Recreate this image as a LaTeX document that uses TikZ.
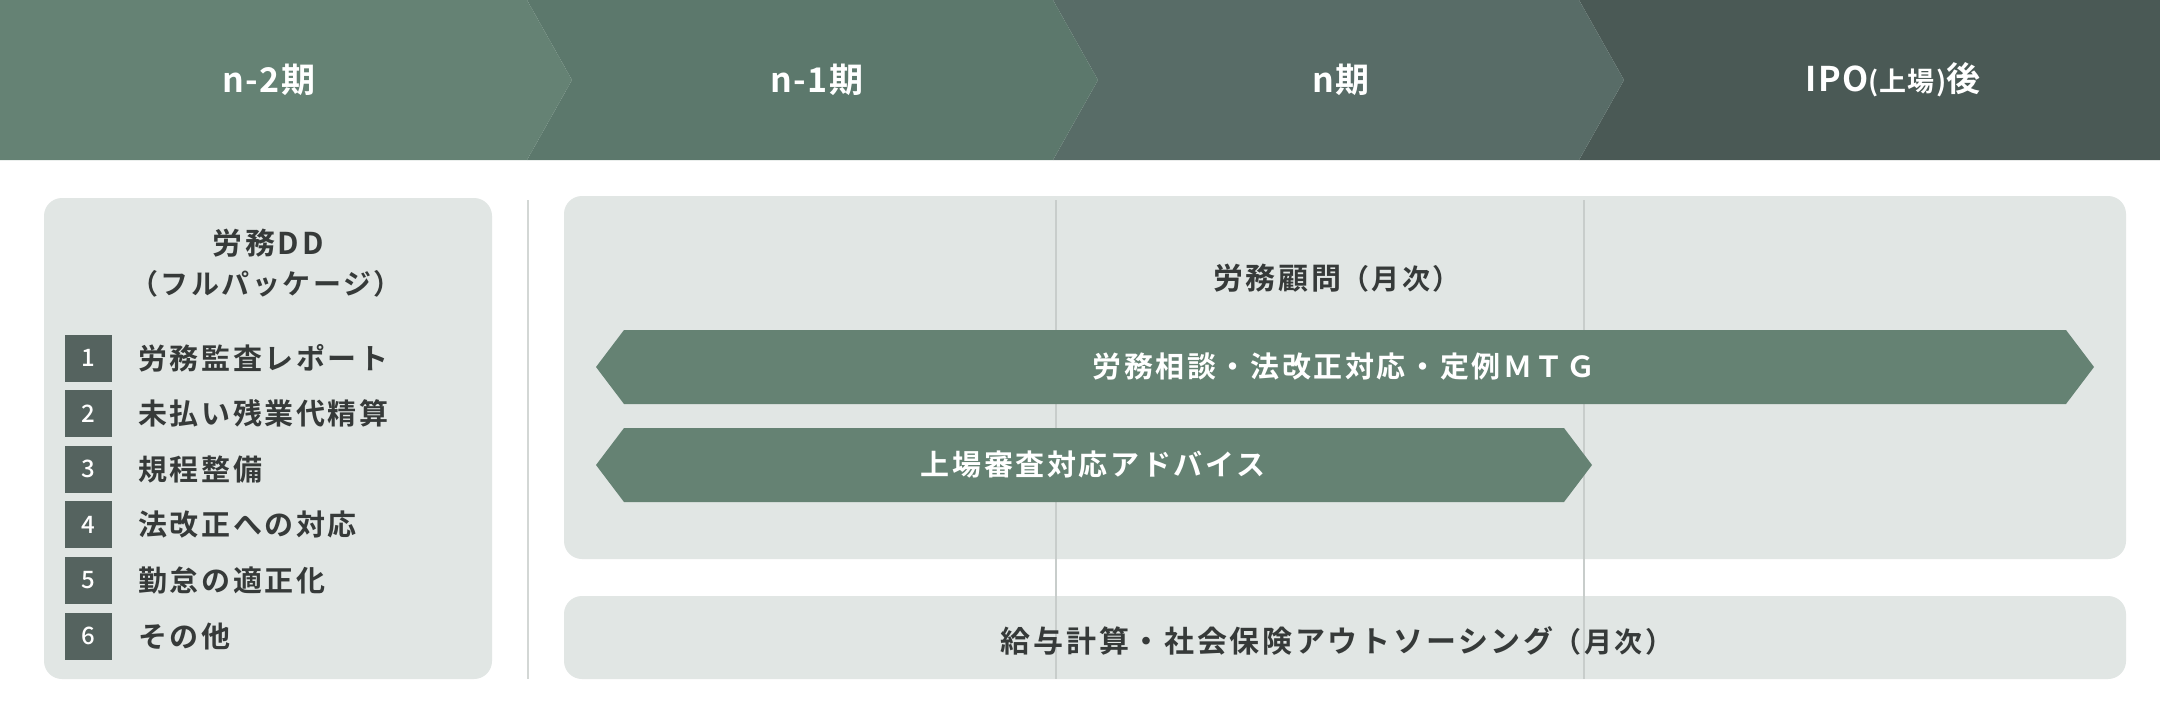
\documentclass[tikz,border=0pt]{standalone}
\usepackage{fontspec}
\newfontfamily\jpb{Noto Sans CJK JP Bold}[LetterSpace=9]
\newfontfamily\jph{Noto Sans CJK JP Bold}[LetterSpace=4]
\newfontfamily\jpm{Noto Sans CJK JP Medium}
\definecolor{hdrA}{HTML}{658274}
\definecolor{hdrB}{HTML}{5C786C}
\definecolor{hdrC}{HTML}{586C67}
\definecolor{hdrD}{HTML}{4A5955}
\definecolor{arrowfill}{HTML}{658273}
\definecolor{boxfill}{HTML}{E1E6E4}
\definecolor{darktext}{HTML}{363A39}
\definecolor{numfill}{HTML}{55635F}
\definecolor{gridline}{HTML}{C8CDCB}
\tikzset{
  hdrtext/.style={text=white, font=\jph\fontsize{34}{40}\selectfont, inner sep=0pt, anchor=center},
  boxtext/.style={text=darktext, font=\jpb\fontsize{30}{36}\selectfont, inner sep=0pt, anchor=center},
  arrowtext/.style={text=white, font=\jpb\fontsize{29}{34}\selectfont, inner sep=0pt, anchor=center},
  itemtext/.style={text=darktext, font=\jpb\fontsize{29}{34}\selectfont, inner sep=0pt, anchor=west},
  numbox/.style={fill=numfill, text=white, font=\jpm\fontsize{24}{28}\selectfont, minimum size=47pt, inner sep=0pt, anchor=center},
  panel/.style={fill=boxfill, rounded corners=18pt},
  gline/.style={draw=gridline, line width=1.6pt},
}
\begin{document}
\begin{tikzpicture}[x=1pt,y=-1pt]
\useasboundingbox (0,0) rectangle (2160,718);
\fill[white] (0,0) rectangle (2160,718);
% header chevrons
\fill[hdrD] (1579,0) -- (2160,0) -- (2160,160) -- (1579,160) -- (1624,80) -- cycle;
\fill[hdrC] (1053,0) -- (1579,0) -- (1624,80) -- (1579,160) -- (1053,160) -- (1098,80) -- cycle;
\fill[hdrB] (527,0) -- (1053,0) -- (1098,80) -- (1053,160) -- (527,160) -- (572,80) -- cycle;
\fill[hdrA] (0,0) -- (527,0) -- (572,80) -- (527,160) -- (0,160) -- cycle;
\node[hdrtext] (h1) at (269,80) {n-2期};
\node[hdrtext] (h2) at (817,80) {n-1期};
\node[hdrtext] (h3) at (1341,80) {n期};
\node[hdrtext] (h4) at (1893,80) {IPO{\fontsize{27}{32}\selectfont (上場)}後};
% panels
\fill[panel] (44,198) rectangle (492,679);
\fill[panel] (564,196) rectangle (2126,559);
\fill[panel] (564,596) rectangle (2126,679);
% separator and grid lines
\coordinate (sepT) at (528,200);
\coordinate (sepB) at (528,679);
\draw[draw=gridline!80!white, line width=1.6pt] (sepT) -- (sepB);
\coordinate (g1T) at (1056,200);
\coordinate (g1B) at (1056,679);
\coordinate (g2T) at (1584,200);
\coordinate (g2B) at (1584,679);
\draw[gline] (g1T) -- (g1B);
\draw[gline] (g2T) -- (g2B);
% arrows
\fill[arrowfill] (596,367) -- (624,330) -- (2066,330) -- (2094,367) -- (2066,404) -- (624,404) -- cycle;
\fill[arrowfill] (596,465) -- (624,428) -- (1564,428) -- (1592,465) -- (1564,502) -- (624,502) -- cycle;
\node[arrowtext] (a1) at (1344,367) {労務相談・法改正対応・定例ＭＴＧ};
\node[arrowtext] (a2) at (1093,465) {上場審査対応アドバイス};
% right panel texts
\node[boxtext] (komon) at (1337,278) {労務顧問{\fontsize{28}{32}\selectfont （月次）}};
\node[boxtext] (kyuyo) at (1337,641) {給与計算・社会保険アウトソーシング{\fontsize{28}{32}\selectfont （月次）}};
% left panel
\node[boxtext] (ddtitle) at (268,243) {労務DD};
\node[boxtext, font=\jpb\fontsize{28}{34}\selectfont] (ddsub) at (266,284) {（フルパッケージ）};
\node[numbox] (n1) at (88,358) {1};
\node[numbox] (n2) at (88,413.6) {2};
\node[numbox] (n3) at (88,469.2) {3};
\node[numbox] (n4) at (88,524.8) {4};
\node[numbox] (n5) at (88,580.4) {5};
\node[numbox] (n6) at (88,636) {6};
\node[itemtext] (t1) at (138,358) {労務監査レポート};
\node[itemtext] (t2) at (138,413.6) {未払い残業代精算};
\node[itemtext] (t3) at (138,469.2) {規程整備};
\node[itemtext] (t4) at (138,524.8) {法改正への対応};
\node[itemtext] (t5) at (138,580.4) {勤怠の適正化};
\node[itemtext] (t6) at (138,636) {その他};
\end{tikzpicture}
\end{document}
